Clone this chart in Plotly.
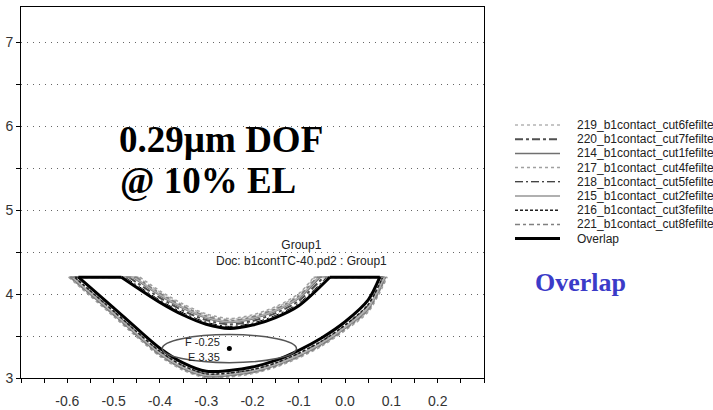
import plotly.graph_objects as go

# ---------------- data ----------------
SERIES_NAMES = [
    "219_b1contact_cut6fefilte",
    "220_b1contact_cut7fefilte",
    "214_b1contact_cut1fefilte",
    "217_b1contact_cut4fefilte",
    "218_b1contact_cut5fefilte",
    "215_b1contact_cut2fefilte",
    "216_b1contact_cut3fefilte",
    "221_b1contact_cut8fefilte",
]
OVERLAP_NAME = "Overlap"

E_TOP = 4.2  # exposure at which the contours are closed

# focus grids (µm)
FOCUS_LOW = [-0.55, -0.50, -0.45, -0.40, -0.35, -0.30, -0.25, -0.20, -0.15, -0.10, -0.05, 0.00, 0.05]
FOCUS_UP = [-0.40, -0.35, -0.30, -0.25, -0.20, -0.15, -0.10]

# lower exposure limit per series
LOW_219 = [3.981, 3.741, 3.496, 3.265, 3.099, 3.008, 3.018, 3.058, 3.135, 3.246, 3.389, 3.574, 3.798]
LOW_220 = [4.028, 3.788, 3.543, 3.310, 3.139, 3.044, 3.054, 3.094, 3.172, 3.288, 3.434, 3.622, 3.864]
LOW_214 = [3.996, 3.756, 3.511, 3.280, 3.112, 3.020, 3.030, 3.070, 3.147, 3.260, 3.404, 3.590, 3.820]
LOW_217 = [3.973, 3.733, 3.488, 3.257, 3.092, 3.002, 3.012, 3.052, 3.129, 3.239, 3.381, 3.566, 3.787]
LOW_218 = [4.075, 3.835, 3.590, 3.355, 3.180, 3.080, 3.090, 3.130, 3.210, 3.330, 3.480, 3.670, 3.930]
LOW_215 = [4.012, 3.772, 3.527, 3.295, 3.126, 3.032, 3.042, 3.082, 3.160, 3.274, 3.419, 3.606, 3.842]
LOW_216 = [4.036, 3.796, 3.551, 3.317, 3.146, 3.050, 3.060, 3.100, 3.179, 3.295, 3.442, 3.630, 3.875]
LOW_221 = [3.989, 3.749, 3.504, 3.272, 3.106, 3.014, 3.024, 3.064, 3.141, 3.253, 3.396, 3.582, 3.809]

# upper exposure limit per series
UP_219 = [4.023, 3.868, 3.752, 3.697, 3.740, 3.836, 3.991]
UP_220 = [3.955, 3.802, 3.690, 3.638, 3.679, 3.772, 3.918]
UP_214 = [3.982, 3.829, 3.714, 3.661, 3.703, 3.797, 3.947]
UP_217 = [4.037, 3.881, 3.764, 3.709, 3.752, 3.849, 4.005]
UP_218 = [3.927, 3.776, 3.665, 3.614, 3.654, 3.746, 3.889]
UP_215 = [3.996, 3.842, 3.727, 3.673, 3.715, 3.810, 3.962]
UP_216 = [3.900, 3.750, 3.640, 3.590, 3.630, 3.720, 3.860]
UP_221 = [4.010, 3.855, 3.739, 3.685, 3.728, 3.823, 3.976]

# focus where each limit curve reaches E_TOP (series order as SERIES_NAMES)
LOW_LEFT_F = [-0.596, -0.586, -0.593, -0.597, -0.576, -0.589, -0.584, -0.594]
LOW_RIGHT_F = [0.089, 0.082, 0.087, 0.091, 0.075, 0.085, 0.081, 0.088]
UP_LEFT_F = [-0.447, -0.467, -0.459, -0.443, -0.475, -0.455, -0.483, -0.451]
UP_RIGHT_F = [-0.065, -0.047, -0.054, -0.068, -0.040, -0.058, -0.033, -0.061]

# overlap window
OVERLAP_LOW = [4.075, 3.835, 3.590, 3.355, 3.180, 3.080, 3.090, 3.130, 3.210, 3.330, 3.480, 3.670, 3.930]
OVERLAP_UP = [3.900, 3.750, 3.640, 3.590, 3.630, 3.720, 3.860]
OVERLAP_ENDS = [-0.576, 0.075, -0.033, -0.483]  # low-left, low-right, up-right, up-left

# process window result
F_CENTER = -0.25
E_CENTER = 3.35
DOF = 0.29
EL_PCT = 10

X_TICKS = [-0.6, -0.5, -0.4, -0.3, -0.2, -0.1, 0.0, 0.1, 0.2]
X_TICK_TEXT = ["-0.6", "-0.5", "-0.4", "-0.3", "-0.2", "-0.1", "0.0", "0.1", "0.2"]
Y_TICKS = [3, 4, 5, 6, 7]
Y_TICK_TEXT = ["3", "4", "5", "6", "7"]

# ---------------- styles ----------------
STYLES = [
    dict(color="#b4b4b4", width=1.5, dash="3px,3px"),
    dict(color="#505050", width=2, dash="8px,3px,3px,3px"),
    dict(color="#707070", width=1.5, dash="solid"),
    dict(color="#a0a0a0", width=1.5, dash="3px,3px"),
    dict(color="#000000", width=1, dash="8px,3px,2px,3px"),
    dict(color="#b0b0b0", width=2, dash="solid"),
    dict(color="#202020", width=1.5, dash="3px,2px"),
    dict(color="#808080", width=1.5, dash="5px,3px,3px,3px"),
]
OVERLAP_STYLE = dict(color="#000000", width=3)

LOWS = [LOW_219, LOW_220, LOW_214, LOW_217, LOW_218, LOW_215, LOW_216, LOW_221]
UPS = [UP_219, UP_220, UP_214, UP_217, UP_218, UP_215, UP_216, UP_221]

SANS = "Liberation Sans, Arial, sans-serif"
SERIF = "Liberation Serif, Times New Roman, serif"

# layout geometry (pixels)
W, H = 713, 410
ML, MT, MB = 21, 7, 32
PLOT_W = 463
FULL_W = W - ML


def contour(low, up, fl_lo, fr_lo, fr_up, fl_up):
    xs = ([fl_lo] + FOCUS_LOW + [fr_lo] + [None] +
          [fl_up] + FOCUS_UP + [fr_up] + [None] +
          [fl_lo, fl_up, None, fr_up, fr_lo])
    ys = ([E_TOP] + low + [E_TOP] + [None] +
          [E_TOP] + up + [E_TOP] + [None] +
          [E_TOP, E_TOP, None, E_TOP, E_TOP])
    return xs, ys


fig = go.Figure()
for i, name in enumerate(SERIES_NAMES):
    xs, ys = contour(LOWS[i], UPS[i], LOW_LEFT_F[i], LOW_RIGHT_F[i], UP_RIGHT_F[i], UP_LEFT_F[i])
    fig.add_trace(go.Scatter(x=xs, y=ys, mode="lines", name=name, showlegend=False,
                             line=dict(shape="spline", smoothing=0.8, **STYLES[i])))

xs, ys = contour(OVERLAP_LOW, OVERLAP_UP, OVERLAP_ENDS[0], OVERLAP_ENDS[1], OVERLAP_ENDS[2], OVERLAP_ENDS[3])
fig.add_trace(go.Scatter(x=xs, y=ys, mode="lines", name=OVERLAP_NAME, showlegend=False,
                         line=dict(shape="spline", smoothing=0.8, **OVERLAP_STYLE)))

# process-window ellipse and centre
half_el = E_CENTER * EL_PCT / 100 / 2
fig.add_shape(type="circle", xref="x", yref="y",
              x0=F_CENTER - DOF / 2, x1=F_CENTER + DOF / 2,
              y0=E_CENTER - half_el, y1=E_CENTER + half_el,
              line=dict(color="#555555", width=1.5))
fig.add_trace(go.Scatter(x=[F_CENTER], y=[E_CENTER], mode="markers", showlegend=False,
                         marker=dict(color="#000000", size=5)))

# ---------- key (legend) drawn on its own small axis pair ----------
legend_names = SERIES_NAMES + [OVERLAP_NAME]
legend_styles = STYLES + [OVERLAP_STYLE]
for row, (name, st) in enumerate(zip(legend_names, legend_styles)):
    fig.add_trace(go.Scatter(x=[0, 1], y=[row, row], xaxis="x2", yaxis="y2", mode="lines",
                             name=name, showlegend=False, hoverinfo="skip", line=st))
    fig.add_annotation(x=1, y=row, xref="x2", yref="y2", text=name, showarrow=False,
                       xanchor="left", yanchor="middle", xshift=15,
                       font=dict(family=SANS, size=12, color="#222222"))

# ---------- texts ----------
fig.add_annotation(x=F_CENTER, y=E_CENTER, xref="x", yref="y", text=f"F {F_CENTER}",
                   showarrow=False, xanchor="right", yanchor="middle", xshift=-7, yshift=7,
                   font=dict(family=SANS, size=11, color="#222222"))
fig.add_annotation(x=F_CENTER, y=E_CENTER, xref="x", yref="y", text=f"E {E_CENTER}",
                   showarrow=False, xanchor="right", yanchor="middle", xshift=-7, yshift=-8,
                   font=dict(family=SANS, size=11, color="#222222"))

fig.add_annotation(x=-0.493, y=5.839, xref="x", yref="y", text=f"<b>{DOF}µm DOF</b>",
                   showarrow=False, xanchor="left", yanchor="middle",
                   font=dict(family=SERIF, size=37, color="#000000"))
fig.add_annotation(x=-0.4915, y=5.351, xref="x", yref="y", text=f"<b>@ {EL_PCT}% EL</b>",
                   showarrow=False, xanchor="left", yanchor="middle",
                   font=dict(family=SERIF, size=37, color="#000000"))

fig.add_annotation(x=-0.095, y=4.488, xref="x", yref="y",
                   text="Group1<br>Doc: b1contTC-40.pd2 : Group1",
                   showarrow=False, xanchor="center", yanchor="middle", align="center",
                   font=dict(family=SANS, size=12, color="#222222"))

fig.add_annotation(x=(580 - ML) / FULL_W, y=(378 - 282) / 371, xref="paper", yref="paper",
                   text="<b>Overlap</b>", showarrow=False, xanchor="center", yanchor="middle",
                   font=dict(family=SERIF, size=26, color="#3b3bc8"))

fig.update_layout(
    width=W, height=H,
    margin=dict(l=ML, r=0, t=MT, b=MB),
    paper_bgcolor="white", plot_bgcolor="white",
    showlegend=False,
    xaxis=dict(domain=[0, PLOT_W / FULL_W], range=[-0.7, 0.3],
               tickmode="array", tickvals=X_TICKS, ticktext=X_TICK_TEXT,
               showgrid=False, zeroline=False, showline=True, linecolor="#000000", linewidth=1,
               mirror=True, ticks="outside", ticklen=4, tickcolor="#000000",
               ticklabelstandoff=6,
               tickfont=dict(family=SANS, size=14, color="#333333"),
               minor=dict(dtick=0.05, tick0=0, ticks="outside", ticklen=4, tickcolor="#000000")),
    yaxis=dict(range=[3, 7.417], tickmode="array", tickvals=Y_TICKS, ticktext=Y_TICK_TEXT,
               showgrid=True, gridcolor="#666666", griddash="1px,5px", gridwidth=1,
               zeroline=False, showline=True, linecolor="#000000", linewidth=1,
               mirror=True, ticks="outside", ticklen=4, tickcolor="#000000",
               tickfont=dict(family=SANS, size=14, color="#333333"),
               minor=dict(dtick=0.5, tick0=0, ticks="outside", ticklen=4, tickcolor="#000000",
                          showgrid=True, gridcolor="#666666", griddash="1px,5px", gridwidth=1)),
    xaxis2=dict(domain=[(515 - ML) / FULL_W, (560 - ML) / FULL_W], range=[0, 1],
                visible=False, fixedrange=True),
    yaxis2=dict(domain=[0, 1], range=[17.82, -8.31], anchor="x2",
                visible=False, fixedrange=True),
)

fig.write_html("out.html")
